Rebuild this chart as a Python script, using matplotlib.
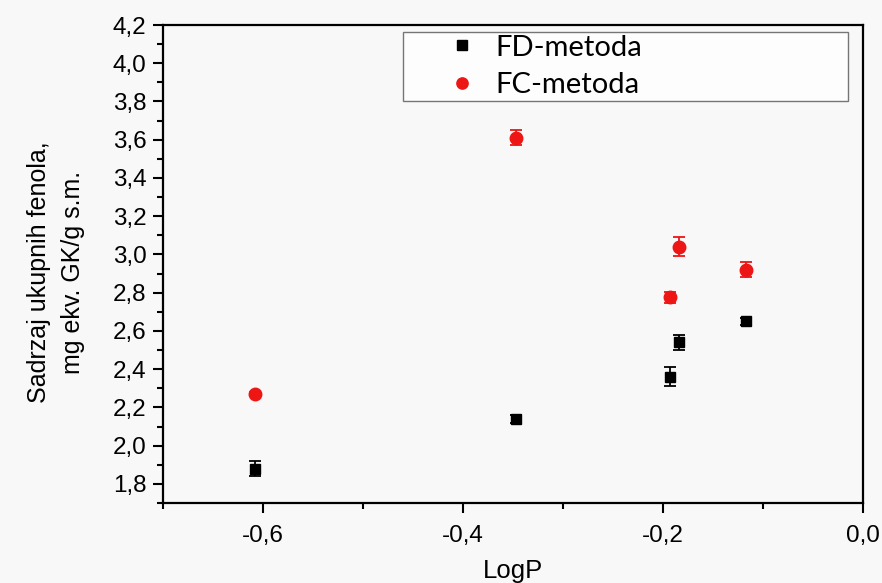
import matplotlib
matplotlib.use('Agg')
import matplotlib.pyplot as plt
from matplotlib.ticker import MultipleLocator, FuncFormatter

# LogP values of the samples and total phenol content for both methods.
logp = [-0.608, -0.347, -0.193, -0.184, -0.117]
fd_vals = [1.88, 2.14, 2.36, 2.54, 2.65]
fd_err = [0.04, 0.02, 0.05, 0.04, 0.02]
fc_vals = [2.27, 3.61, 2.775, 3.04, 2.92]
fc_err = [0.01, 0.04, 0.03, 0.05, 0.04]

plt.rcParams['font.family'] = ['Liberation Sans', 'DejaVu Sans']

fig = plt.figure(figsize=(8.82, 5.83), dpi=100, facecolor='#f8f8f8')
ax = fig.add_axes([0.1848, 0.1372, 0.7937, 0.8199])
ax.set_facecolor('#f8f8f8')

ax.errorbar(logp, fd_vals, yerr=fd_err, fmt='s', color='black', ms=7.5,
            capsize=4, elinewidth=1.3, capthick=1.3, label='FD-metoda')
ax.errorbar(logp, fc_vals, yerr=fc_err, fmt='o', color='#ee1515', ms=9,
            capsize=4, elinewidth=1.3, capthick=1.3, label='FC-metoda')

ax.set_xlim(-0.7, 0.0)
ax.set_ylim(1.7, 4.2)
ax.xaxis.set_major_locator(MultipleLocator(0.2))
ax.xaxis.set_minor_locator(MultipleLocator(0.1))
ax.yaxis.set_major_locator(MultipleLocator(0.2))
ax.yaxis.set_minor_locator(MultipleLocator(0.1))

comma = FuncFormatter(lambda v, p: ('%.1f' % v).replace('.', ','))
ax.xaxis.set_major_formatter(comma)
ax.yaxis.set_major_formatter(comma)

ax.tick_params(which='both', direction='out', width=1.5, labelsize=17.5,
               top=False, right=False)
ax.tick_params(which='major', length=7, pad=5)
ax.tick_params(which='minor', length=4)
ax.tick_params(axis='x', which='major', pad=9)
for s in ax.spines.values():
    s.set_linewidth(1.6)

ax.set_xlabel('LogP', fontsize=18.5)
ax.xaxis.set_label_coords(0.5, -0.117)
ax.set_ylabel('Sadrzaj ukupnih fenola,\nmg ekv. GK/g s.m.', fontsize=18,
              linespacing=1.5)
ax.yaxis.set_label_coords(-0.112, 0.483)

handles, labels = ax.get_legend_handles_labels()
handles = [h[0] for h in handles]
leg = ax.legend(handles, labels, loc='upper left',
                bbox_to_anchor=(0.343, 0.845, 0.636, 0.14), mode='expand',
                frameon=True, fancybox=False,
                prop={'family': 'Lato', 'size': 21}, markerscale=0.9,
                handletextpad=-0.75, borderpad=0.08, labelspacing=0.4,
                handlelength=3.85, borderaxespad=0)
leg.get_frame().set_edgecolor('#555555')
leg.get_frame().set_linewidth(1.0)
leg.get_frame().set_facecolor('white')

fig.savefig('out.png', dpi=100, facecolor=fig.get_facecolor())
